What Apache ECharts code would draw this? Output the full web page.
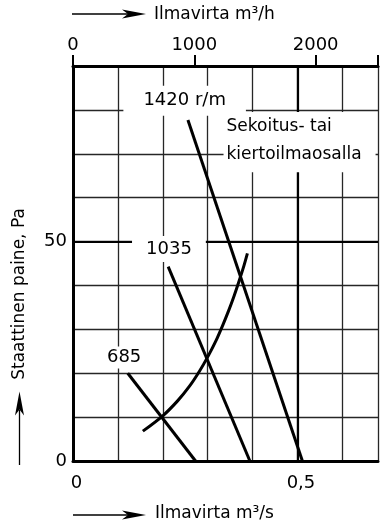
<!DOCTYPE html>
<html><head><meta charset="utf-8">
<script src="https://cdn.jsdelivr.net/npm/echarts@6/dist/echarts.min.js"></script>
<style>html,body{margin:0;padding:0;background:#fff}#c{width:381px;height:526px}</style>
</head><body><div id="c"></div>
<script>
// ---- data (m³/s, Pa) ----
const fan1420 = [[0.256, 77.7], [0.511, 0]];
const fan1035 = [[0.212, 44.3], [0.394, 0]];
const fan685 = [[0.122, 20.0], [0.273, 0]];
const systemCurve = [[0.1556, 6.8], [0.200, 10.3], [0.233, 13.7], [0.260, 17.1], [0.282, 20.5], [0.301, 23.9], [0.318, 27.3],
  [0.333, 30.8], [0.3465, 34.2], [0.3588, 37.6], [0.370, 41.0], [0.3805, 44.4], [0.3885, 47.3]];
const xLabelsS = [[0, '0'], [0.5, '0,5']];
const xLabelsH = [0, 1000, 2000];
const yLabels = [0, 50];
const fanNames = ['1420 r/m', '1035', '685'];
const systemName = ['Sekoitus- tai', 'kiertoilmaosalla'];
const titleTop = 'Ilmavirta m³/h';
const titleBottom = 'Ilmavirta m³/s';
const titleLeft = 'Staattinen paine, Pa';

const FONT = 'DejaVu Sans';
const chart = echarts.init(document.getElementById('c'), null, {renderer: 'canvas'});
const gridLine = {show: true, lineStyle: {color: '#262626', width: 1.3}};
const lineSeries = (data) => ({
  type: 'line', data, symbol: 'none', silent: true,
  smooth: data.length > 2 ? 0.3 : false,
  lineStyle: {color: '#000', width: 3}, xAxisIndex: 0, yAxisIndex: 0
});
const s1420 = lineSeries(fan1420);
s1420.markLine = {
  silent: true, symbol: ['none', 'none'], label: {show: false},
  lineStyle: {color: '#000', width: 2.2, type: 'solid'},
  data: [{xAxis: 0.5}, {yAxis: 50}]
};
chart.setOption({
  animation: false,
  backgroundColor: '#fff',
  textStyle: {fontFamily: FONT},
  grid: {left: 73, top: 66, right: -2, bottom: 65, containLabel: false},
  xAxis: [{
    type: 'value', position: 'bottom', min: 0, max: 0.6794, interval: 0.1,
    axisLine: {show: true, onZero: false, lineStyle: {color: '#000', width: 3}},
    axisTick: {show: false}, splitLine: gridLine,
    axisLabel: {margin: 13, padding: [0, 0, 0, 7], fontSize: 18, color: '#000', fontFamily: FONT,
      formatter: v => { const f = xLabelsS.find(p => Math.abs(p[0] - v) < 1e-9); return f ? f[1] : ''; }}
  }, {
    type: 'value', position: 'top', min: 0, max: 2514, interval: 1000,
    axisLine: {show: true, onZero: false, lineStyle: {color: '#000', width: 3}},
    axisTick: {show: true, length: 11, lineStyle: {color: '#000', width: 2}},
    splitLine: {show: false},
    axisLabel: {margin: 12, fontSize: 18, color: '#000', fontFamily: FONT,
      formatter: v => xLabelsH.includes(v) ? String(v) : ''}
  }],
  yAxis: [{
    type: 'value', min: 0, max: 90, interval: 10,
    axisLine: {show: true, onZero: false, lineStyle: {color: '#000', width: 3}},
    axisTick: {show: false}, splitLine: gridLine,
    axisLabel: {margin: 6, fontSize: 18, color: '#000', fontFamily: FONT,
      formatter: v => yLabels.includes(v) ? String(v) : ''}
  }],
  series: [s1420, lineSeries(fan1035), lineSeries(fan685), lineSeries(systemCurve)]
});

const P = (x, y) => chart.convertToPixel({xAxisIndex: 0, yAxisIndex: 0}, [x, y]);
const boxText = (text, pos, pad, extra) => {
  const p = P(pos[0], pos[1]);
  return Object.assign({type: 'text', x: p[0], y: p[1], z: 100, silent: true,
    style: Object.assign({text, font: '18px "' + FONT + '"', fill: '#000', align: 'center', verticalAlign: 'middle',
      backgroundColor: '#fff', padding: pad}, extra || {})});
};
const arrowH = (x0, x1, y) => [
  {type: 'line', z: 100, silent: true, shape: {x1: x0, y1: y, x2: x1 - 18, y2: y}, style: {stroke: '#000', lineWidth: 1.3}},
  {type: 'polygon', z: 100, silent: true, shape: {points: [[x1, y], [x1 - 24, y - 4.5], [x1 - 18, y], [x1 - 24, y + 4.5]]}, style: {fill: '#000'}}
];
const txt = (text, x, y, extra) => ({type: 'text', x, y, z: 100, silent: true,
  style: Object.assign({text, font: '17px "' + FONT + '"', fill: '#000', align: 'left', verticalAlign: 'middle'}, extra || {})});

const graphics = [
  boxText(fanNames[0], [0.2487, 82.1], [6, 20]),
  boxText(fanNames[1], [0.2137, 48.3], [4, 14]),
  boxText(fanNames[2], [0.1139, 23.6], [2, 4]),
  boxText(systemName.join('\n'), [0.3353, 79.5], [1, 14, 4, 3],
    {align: 'left', verticalAlign: 'top', font: '17px "' + FONT + '"', lineHeight: 27.6}),
  ...arrowH(72, 146, 14),
  txt(titleTop, 154, 15),
  ...arrowH(73, 146, 515),
  txt(titleBottom, 155, 514),
  {type: 'line', z: 100, silent: true, shape: {x1: 19.5, y1: 465, x2: 19.5, y2: 410}, style: {stroke: '#000', lineWidth: 1.3}},
  {type: 'polygon', z: 100, silent: true, shape: {points: [[19.5, 391.5], [15, 415.5], [19.5, 409.5], [24, 415.5]]}, style: {fill: '#000'}},
  {type: 'text', x: 19.5, y: 294, rotation: Math.PI / 2, z: 100, silent: true,
    style: {text: titleLeft, font: '17px "' + FONT + '"', fill: '#000', align: 'center', verticalAlign: 'middle'}}
];
chart.setOption({graphic: graphics});
</script>
</body></html>
